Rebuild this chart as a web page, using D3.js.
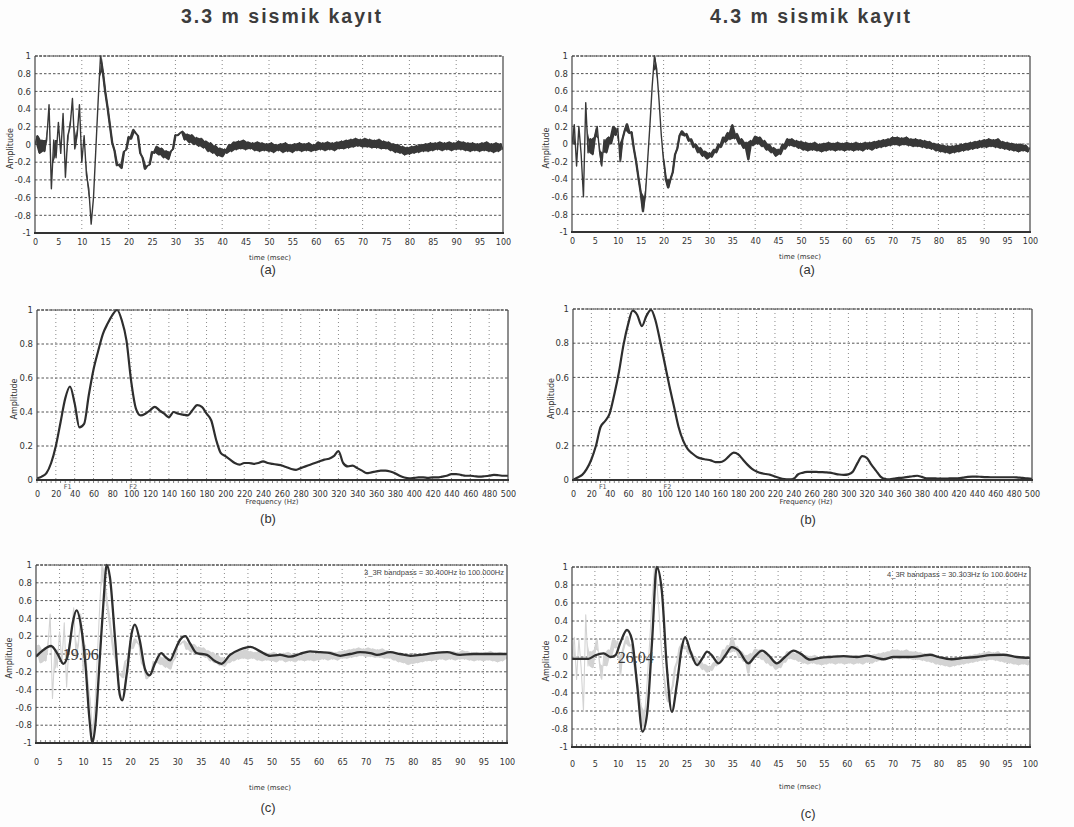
<!DOCTYPE html>
<html><head><meta charset="utf-8">
<script src="https://cdn.jsdelivr.net/npm/d3@7"></script>
<style>body{margin:0;background:#fff}</style>
</head><body>
<svg id="c" width="1074" height="827"></svg>
<script>
// ---------------- DATA ----------------
const titles = ["3.3 m sismik kayıt", "4.3 m sismik kayıt"];
const panelLetters = ["(a)", "(b)", "(c)"];
const timeTickLabels = [0,5,10,15,20,25,30,35,40,45,50,55,60,65,70,75,80,85,90,95,100];
const freqTickLabels = [0,20,40,60,80,100,120,140,160,180,200,220,240,260,280,300,320,340,360,380,400,420,440,460,480,500];
const ampTickLabels = [1,0.8,0.6,0.4,0.2,0,-0.2,-0.4,-0.6,-0.8,-1];
const specAmpTickLabels = [1,0.8,0.6,0.4,0.2,0];
const bandpassNotes = ["3_3R  bandpass = 30.400Hz to 100.000Hz", "4_3R bandpass = 30.303Hz to 100.606Hz"];
const bandCorners33 = [30.4, 100.0];
const bandCorners43 = [30.303, 100.606];
const pickLabels = ["19.06", "26.04"];

// raw seismic records, 0..100 ms, 0.5 ms sampling
const raw33 = [
 0.0,0.1,-0.1,0.05,-0.08,0.05,0.45,-0.5,0.05,-0.15,0.25,-0.1,0.35,-0.37,0.1,0.2,0.52,-0.05,0.1,0.45,-0.2,
 0.1,-0.35,-0.5,-0.9,-0.6,-0.05,0.5,1.0,0.82,
 0.6,0.42,0.22,0.02,-0.07,-0.24,-0.22,-0.27,-0.08,-0.06,0.09,0.06,0.17,0.13,0.1,-0.1,-0.15,-0.28,-0.24,-0.23,-0.08,-0.1,-0.02,-0.12,-0.04,-0.15,-0.07,-0.17,-0.08,-0.05,0.11,0.1,0.13,
 0.15,0.05,0.12,0.02,0.11,0.0,0.08,-0.02,0.07,-0.04,
 0.04,-0.08,0.02,-0.1,-0.01,-0.13,-0.04,-0.14,-0.05,-0.1,
 0.0,-0.08,0.03,-0.06,0.04,-0.05,0.05,-0.06,0.03,-0.05,
 0.02,-0.07,0.03,-0.08,0.02,-0.07,0.01,-0.08,0.02,-0.09,
 0.0,-0.07,0.01,-0.09,0.02,-0.08,0.0,-0.09,0.01,-0.07,
 0.02,-0.08,0.01,-0.07,0.02,-0.08,0.0,-0.07,0.03,-0.06,
 0.02,-0.07,0.03,-0.06,0.02,-0.07,0.03,-0.05,0.04,-0.05,
 0.05,-0.04,0.06,-0.03,0.07,-0.02,0.06,-0.03,0.07,-0.03,
 0.06,-0.04,0.05,-0.04,0.06,-0.05,0.04,-0.05,0.03,-0.07,
 0.01,-0.09,0.0,-0.1,-0.02,-0.12,-0.03,-0.11,-0.02,-0.1,
 -0.01,-0.09,0.0,-0.08,0.01,-0.08,0.02,-0.07,0.02,-0.06,
 0.03,-0.07,0.02,-0.06,0.03,-0.07,0.02,-0.06,0.04,-0.06,
 0.03,-0.07,0.02,-0.08,0.02,-0.07,0.01,-0.08,0.02,-0.07,
 0.03,-0.08,0.01,-0.09,0.02,-0.08,0.01,-0.06
];
const raw43 = [
 0.0,0.22,-0.25,0.2,-0.12,-0.6,0.47,-0.1,0.06,-0.12,0.08,0.2,-0.08,-0.25,0.05,-0.1,0.08,0.0,0.2,0.1,0.18,-0.2,0.05,0.15,0.23,0.12,0.14,-0.05,-0.2,-0.38,-0.55,-0.77,-0.6,-0.2,
 0.2,0.65,1.0,0.85,0.5,0.1,-0.2,-0.4,-0.5,-0.4,-0.32,-0.12,-0.05,0.1,0.15,0.09,0.12,0.03,0.06,-0.04,0.0,-0.1,-0.04,-0.14,-0.08,-0.17,-0.1,-0.15,-0.06,-0.1,
 0.0,-0.04,0.08,0.02,0.13,0.05,0.22,0.06,0.12,0.0,
 0.06,-0.05,0.02,-0.18,0.04,-0.02,0.09,0.0,0.08,-0.03,
 0.04,-0.07,0.0,-0.1,-0.04,-0.14,-0.06,-0.12,0.0,-0.06,
 0.06,-0.02,0.06,-0.03,0.04,-0.05,0.03,-0.07,0.02,-0.08,
 0.01,-0.07,0.02,-0.08,0.0,-0.09,0.01,-0.08,0.02,-0.07,
 0.01,-0.08,0.02,-0.07,0.01,-0.08,0.02,-0.07,0.01,-0.08,
 0.02,-0.07,0.01,-0.08,0.02,-0.06,0.02,-0.07,0.03,-0.05,
 0.04,-0.04,0.05,-0.03,0.06,-0.02,0.08,-0.01,0.08,-0.02,
 0.07,-0.01,0.08,-0.02,0.06,-0.03,0.06,-0.03,0.05,-0.04,
 0.04,-0.05,0.03,-0.06,0.01,-0.08,0.0,-0.09,-0.01,-0.1,
 -0.02,-0.11,-0.02,-0.1,-0.01,-0.09,0.0,-0.08,0.01,-0.07,
 0.02,-0.06,0.03,-0.05,0.04,-0.04,0.05,-0.04,0.06,-0.03,
 0.05,-0.04,0.06,-0.05,0.03,-0.06,0.02,-0.07,0.01,-0.08,
 0.0,-0.09,0.0,-0.08,-0.01,-0.09,-0.04
];

// amplitude spectra, 0..500 Hz, 5 Hz sampling
const spec33 = [
 0.01,0.02,0.04,0.1,0.2,0.34,0.48,0.55,0.45,0.31,
 0.33,0.5,0.65,0.76,0.86,0.92,0.97,1.0,0.94,0.82,
 0.58,0.42,0.38,0.39,0.41,0.43,0.41,0.39,0.37,0.4,
 0.39,0.385,0.38,0.41,0.44,0.43,0.39,0.35,0.24,0.16,
 0.14,0.12,0.1,0.09,0.1,0.1,0.095,0.1,0.11,0.1,
 0.095,0.09,0.085,0.075,0.065,0.06,0.07,0.08,0.09,0.1,
 0.11,0.12,0.125,0.14,0.17,0.1,0.08,0.085,0.07,0.055,
 0.04,0.045,0.05,0.055,0.055,0.05,0.04,0.025,0.015,0.01,
 0.012,0.015,0.015,0.012,0.015,0.015,0.02,0.025,0.035,0.035,
 0.03,0.025,0.025,0.022,0.02,0.022,0.025,0.03,0.028,0.025,
 0.025
];
const spec43 = [
 0.0,0.015,0.03,0.065,0.12,0.2,0.31,0.345,0.39,0.5,
 0.63,0.79,0.91,0.99,0.965,0.9,0.96,0.995,0.93,0.81,
 0.68,0.55,0.43,0.31,0.23,0.18,0.155,0.135,0.125,0.12,
 0.115,0.105,0.105,0.115,0.14,0.16,0.15,0.12,0.09,0.065,
 0.05,0.04,0.035,0.03,0.02,0.012,0.006,0.004,0.005,0.032,
 0.042,0.047,0.048,0.047,0.046,0.045,0.043,0.037,0.032,0.03,
 0.033,0.05,0.1,0.14,0.13,0.09,0.055,0.02,0.006,0.004,
 0.008,0.012,0.014,0.018,0.022,0.025,0.018,0.01,0.01,0.009,
 0.008,0.008,0.009,0.01,0.01,0.014,0.018,0.02,0.02,0.018,
 0.017,0.016,0.016,0.016,0.016,0.016,0.016,0.014,0.012,0.009,
 0.006
];

// band-pass filtered traces (time ms, amplitude)
const filt33Time = [0,1.2,3.2,4.6,5.8,6.9,7.8,8.6,9.6,10.5,11.3,12.0,12.6,13.6,14.4,15.0,15.7,16.8,17.8,18.3,19.3,20.3,21.0,22.0,23.2,24.1,25.3,26.6,27.4,28.5,29.5,30.6,31.7,32.7,34.1,36.3,38.0,39.4,41.2,43.3,45.5,47.6,49.7,51.8,54,56,58.2,60.3,62.5,64.6,66.7,68.8,71,72.4,75.2,77.3,79.5,81.6,84.4,87.3,90,92.9,95.8,100];
const filt33Amp  = [-0.03,0.03,0.09,0.0,-0.11,0.02,0.35,0.49,0.3,-0.12,-0.7,-1.0,-0.8,0.0,0.64,1.0,0.86,0.16,-0.46,-0.52,-0.21,0.23,0.33,0.16,-0.18,-0.24,-0.1,0.01,-0.03,-0.07,0.04,0.16,0.2,0.12,0.01,-0.01,-0.08,-0.11,-0.01,0.05,0.08,0.03,-0.02,-0.01,-0.03,0.0,0.03,0.02,0.01,-0.02,0.0,0.02,0.01,-0.01,0.02,0.0,-0.02,-0.01,0.01,0.02,-0.01,0.0,0.0,0.0];
const filt43Time = [0,3.6,5.1,6.9,8.4,9.5,10.5,12.0,13.1,14.2,15.4,16.4,17.5,18.5,19.6,20.7,21.8,22.9,24.0,24.7,25.8,27.3,28.4,29.5,30.5,32.0,33.5,34.9,36.4,38.5,40.0,41.5,42.9,44.7,46.5,48.4,49.8,52.0,54.2,56.4,59.3,62.2,64.4,66.5,68.0,70.2,73.1,76.0,78.2,80.0,82.9,85.5,88.4,91.3,94.2,97.1,100];
const filt43Amp  = [-0.02,-0.02,0.02,0.04,0.0,0.02,0.15,0.3,0.19,-0.3,-0.83,-0.63,0.19,1.0,0.74,-0.11,-0.61,-0.3,0.11,0.22,0.07,-0.09,-0.02,0.06,0.02,-0.07,0.02,0.11,0.07,-0.07,0.01,0.07,0.02,-0.07,0.0,0.07,0.04,-0.03,-0.01,0.0,0.01,0.0,0.015,-0.01,-0.025,0.0,0.0,0.01,0.025,0.0,-0.025,-0.01,0.0,0.02,0.025,0.0,-0.01];

// ---------------- DRAW ----------------
const svg = d3.select("#c");
svg.append("rect").attr("width",1074).attr("height",827).attr("fill","#fdfdfd");

const TICKFONT = "'DejaVu Sans', sans-serif";

function panel(o){
  const g = svg.append("g");
  const x = d3.scaleLinear().domain(o.xd).range([o.x0, o.x1]);
  const y = d3.scaleLinear().domain(o.yd).range([o.yb, o.yt]);
  g.append("rect").attr("x",o.x0).attr("y",o.yt).attr("width",o.x1-o.x0).attr("height",o.yb-o.yt).attr("fill","#fff");
  g.selectAll(null).data(o.vGrid).join("line")
    .attr("x1",d=>x(d)).attr("x2",d=>x(d)).attr("y1",o.yt).attr("y2",o.yb)
    .attr("stroke","#8a8a8a").attr("stroke-width",1).attr("stroke-dasharray","1,3");
  g.selectAll(null).data(o.yTicks.filter(v=>v>o.yd[0] && v<=o.yd[1])).join("line")
    .attr("x1",o.x0).attr("x2",o.x1).attr("y1",d=>y(d)).attr("y2",d=>y(d))
    .attr("stroke","#555").attr("stroke-width",1).attr("stroke-dasharray","2.5,2");
  if (o.minor) {
    g.selectAll(null).data(o.minor).join("line")
      .attr("x1",d=>x(d)).attr("x2",d=>x(d)).attr("y1",o.yb).attr("y2",o.yb+o.minorDir*3)
      .attr("stroke","#666").attr("stroke-width",0.8);
  }
  const clipId = "clip"+Math.round(o.x0)+"_"+Math.round(o.yt);
  svg.append("clipPath").attr("id",clipId).append("rect")
    .attr("x",o.x0).attr("y",o.yt-2).attr("width",o.x1-o.x0).attr("height",o.yb-o.yt+4);
  const plot = g.append("g").attr("clip-path",`url(#${clipId})`);
  g.append("line").attr("x1",o.x0).attr("x2",o.x0).attr("y1",o.yt).attr("y2",o.yb).attr("stroke","#444").attr("stroke-width",1.2);
  g.append("line").attr("x1",o.x1).attr("x2",o.x1).attr("y1",o.yt).attr("y2",o.yb).attr("stroke","#444").attr("stroke-width",1.2);
  g.append("line").attr("x1",o.x0).attr("x2",o.x1).attr("y1",o.yt).attr("y2",o.yt).attr("stroke","#444").attr("stroke-width",1).attr("stroke-dasharray","3,1");
  g.append("line").attr("x1",o.x0-1).attr("x2",o.x1+1).attr("y1",o.yb).attr("y2",o.yb).attr("stroke","#333").attr("stroke-width",2);
  const ax = g.append("g").attr("transform",`translate(0,${o.yb})`)
    .call(d3.axisBottom(x).tickValues(o.xTicks).tickSize(0).tickPadding(o.xPad).tickFormat(d=>String(d)));
  ax.select(".domain").remove();
  ax.selectAll("text").attr("font-family",TICKFONT).attr("font-size",8).attr("fill","#333");
  const ay = g.append("g").attr("transform",`translate(${o.x0},0)`)
    .call(d3.axisLeft(y).tickValues(o.yTicks).tickSize(0).tickPadding(4).tickFormat(d=>String(d)));
  ay.select(".domain").remove();
  ay.selectAll("text").attr("font-family",TICKFONT).attr("font-size",8.5).attr("fill","#333");
  g.append("text").attr("transform",`translate(${o.ampX},${(o.yt+o.yb)/2+4}) rotate(-90)`)
    .attr("text-anchor","middle").attr("font-family",TICKFONT).attr("font-size",8).attr("fill","#333").text("Amplitude");
  g.append("text").attr("x",o.xLabX).attr("y",o.xLabY).attr("text-anchor","middle")
    .attr("font-family",TICKFONT).attr("font-size",7).attr("fill","#333").text(o.xLab);
  g.append("text").attr("x",o.subX).attr("y",o.subY).attr("text-anchor","middle")
    .attr("font-family","'Liberation Sans', Arial, sans-serif").attr("font-size",13).attr("fill","#333").text(o.sub);
  return {x, y, g, plot};
}

// dense trace: filled band between consecutive noisy samples (small jumps only) + the trace line on top
function rawTrace(p, arr, color, w){
  const n = arr.length, dt = 100/(n-1);
  const cols = [];
  for (let i=0;i<n-1;i++){
    const a = arr[i], b = arr[i+1];
    const lo = Math.min(a,b), hi = Math.max(a,b);
    const m = (a+b)/2;
    cols.push((hi-lo) > 0.25 ? {t:(i+0.5)*dt, lo:m, hi:m} : {t:(i+0.5)*dt, lo, hi});
  }
  const area = d3.area().x(d=>p.x(d.t)).y0(d=>p.y(d.lo)).y1(d=>p.y(d.hi));
  p.plot.append("path").datum(cols).attr("d",area).attr("fill",color);
  const line = d3.line().x((d,i)=>p.x(i*dt)).y(d=>p.y(d));
  p.plot.append("path").datum(arr).attr("d",line).attr("fill","none")
    .attr("stroke",color).attr("stroke-width",w).attr("stroke-linejoin","round");
}
function specLine(p, arr){
  const n = arr.length;
  const line = d3.line().x((d,i)=>p.x(i*500/(n-1))).y(d=>p.y(d)).curve(d3.curveMonotoneX);
  p.plot.append("path").datum(arr).attr("d",line).attr("fill","none")
    .attr("stroke","#2e2e2e").attr("stroke-width",2.2).attr("stroke-linejoin","round");
}
function filtLine(p, ts, as){
  const line = d3.line().x(d=>p.x(d[0])).y(d=>p.y(d[1])).curve(d3.curveMonotoneX);
  p.plot.append("path").datum(d3.zip(ts,as)).attr("d",line).attr("fill","none")
    .attr("stroke","#2e2e2e").attr("stroke-width",2.3).attr("stroke-linejoin","round");
}

svg.selectAll(null).data(titles).join("text")
  .attr("x",(d,i)=>i===0?281:810).attr("y",23).attr("text-anchor","middle")
  .attr("font-family","'Liberation Sans', Arial, sans-serif").attr("font-weight","bold")
  .attr("font-size",19.5).attr("textLength",200).attr("lengthAdjust","spacing")
  .attr("fill","#3c3c3c").text(d=>d);

const vGrid10 = timeTickLabels.filter(v=>v%10===0 && v>0 && v<100);
const vGrid5 = timeTickLabels.filter(v=>v>0 && v<100);
const vGridF = freqTickLabels.filter(v=>v>0 && v<500);
const minorF = d3.range(0,501,5);
const minorT = d3.range(0,101,1);

const pTL = panel({x0:35,x1:503,yt:56,yb:233,xd:[0,100],yd:[-1,1],xTicks:timeTickLabels,yTicks:ampTickLabels,
  vGrid:vGrid10,xPad:6,ampX:13,xLab:"time (msec)",xLabX:270,xLabY:260,sub:panelLetters[0],subX:268,subY:274});
rawTrace(pTL, raw33, "#383838", 1.4);
const pTR = panel({x0:572,x1:1030,yt:56,yb:232,xd:[0,100],yd:[-1,1],xTicks:timeTickLabels,yTicks:ampTickLabels,
  vGrid:vGrid10,xPad:6,ampX:549,xLab:"time (msec)",xLabX:800,xLabY:259,sub:panelLetters[0],subX:807,subY:274});
rawTrace(pTR, raw43, "#383838", 1.4);

const pML = panel({x0:37,x1:508,yt:310,yb:480,xd:[0,500],yd:[0,1],xTicks:freqTickLabels,yTicks:specAmpTickLabels,
  vGrid:vGridF,minor:minorF,minorDir:1,xPad:11,ampX:17,xLab:"Frequency (Hz)",xLabX:272,xLabY:504,sub:panelLetters[1],subX:268,subY:523});
specLine(pML, spec33);
const pMR = panel({x0:573,x1:1032,yt:309,yb:480,xd:[0,500],yd:[0,1],xTicks:freqTickLabels,yTicks:specAmpTickLabels,
  vGrid:vGridF,minor:minorF,minorDir:1,xPad:11,ampX:554,xLab:"Frequency (Hz)",xLabX:806,xLabY:504,sub:panelLetters[1],subX:808,subY:524});
specLine(pMR, spec43);
[[pML,bandCorners33],[pMR,bandCorners43]].forEach(([p,bc])=>{
  p.g.selectAll(null).data(bc).join("text").attr("x",d=>p.x(d)+2).attr("y",489).attr("text-anchor","middle")
    .attr("font-family",TICKFONT).attr("font-size",6.5).attr("fill","#555").text((d,i)=>"F"+(i+1));
});

const pBL = panel({x0:36,x1:507,yt:565,yb:743,xd:[0,100],yd:[-1,1],xTicks:timeTickLabels,yTicks:ampTickLabels,
  vGrid:vGrid5,minor:minorT,minorDir:-1,xPad:16,ampX:12,xLab:"time (msec)",xLabX:270,xLabY:790,sub:panelLetters[2],subX:268,subY:812});
rawTrace(pBL, raw33, "#d3d3d3", 1.1);
filtLine(pBL, filt33Time, filt33Amp);
const pBR = panel({x0:572,x1:1030,yt:567,yb:747,xd:[0,100],yd:[-1,1],xTicks:timeTickLabels,yTicks:ampTickLabels,
  vGrid:vGrid5,minor:minorT,minorDir:-1,xPad:14,ampX:549,xLab:"time (msec)",xLabX:800,xLabY:789,sub:panelLetters[2],subX:808,subY:818});
rawTrace(pBR, raw43, "#d3d3d3", 1.1);
filtLine(pBR, filt43Time, filt43Amp);

[[pBL,0],[pBR,1]].forEach(([p,i])=>{
  p.g.append("text").attr("x",p.x(100)-3).attr("y",p.y(1)+10).attr("text-anchor","end")
    .attr("font-family","'Liberation Sans', Arial, sans-serif").attr("font-size",7.5).attr("fill","#444").text(bandpassNotes[i]);
});
pBL.g.append("text").attr("x",pBL.x(5.7)).attr("y",pBL.y(0)+6).attr("font-family","'Liberation Serif', 'DejaVu Serif', serif")
  .attr("font-size",16).attr("fill","#3a3a3a").text(pickLabels[0]);
pBR.g.append("text").attr("x",pBR.x(10)).attr("y",pBR.y(0)+6).attr("font-family","'Liberation Serif', 'DejaVu Serif', serif")
  .attr("font-size",16).attr("fill","#3a3a3a").text(pickLabels[1]);
</script>
</body></html>
